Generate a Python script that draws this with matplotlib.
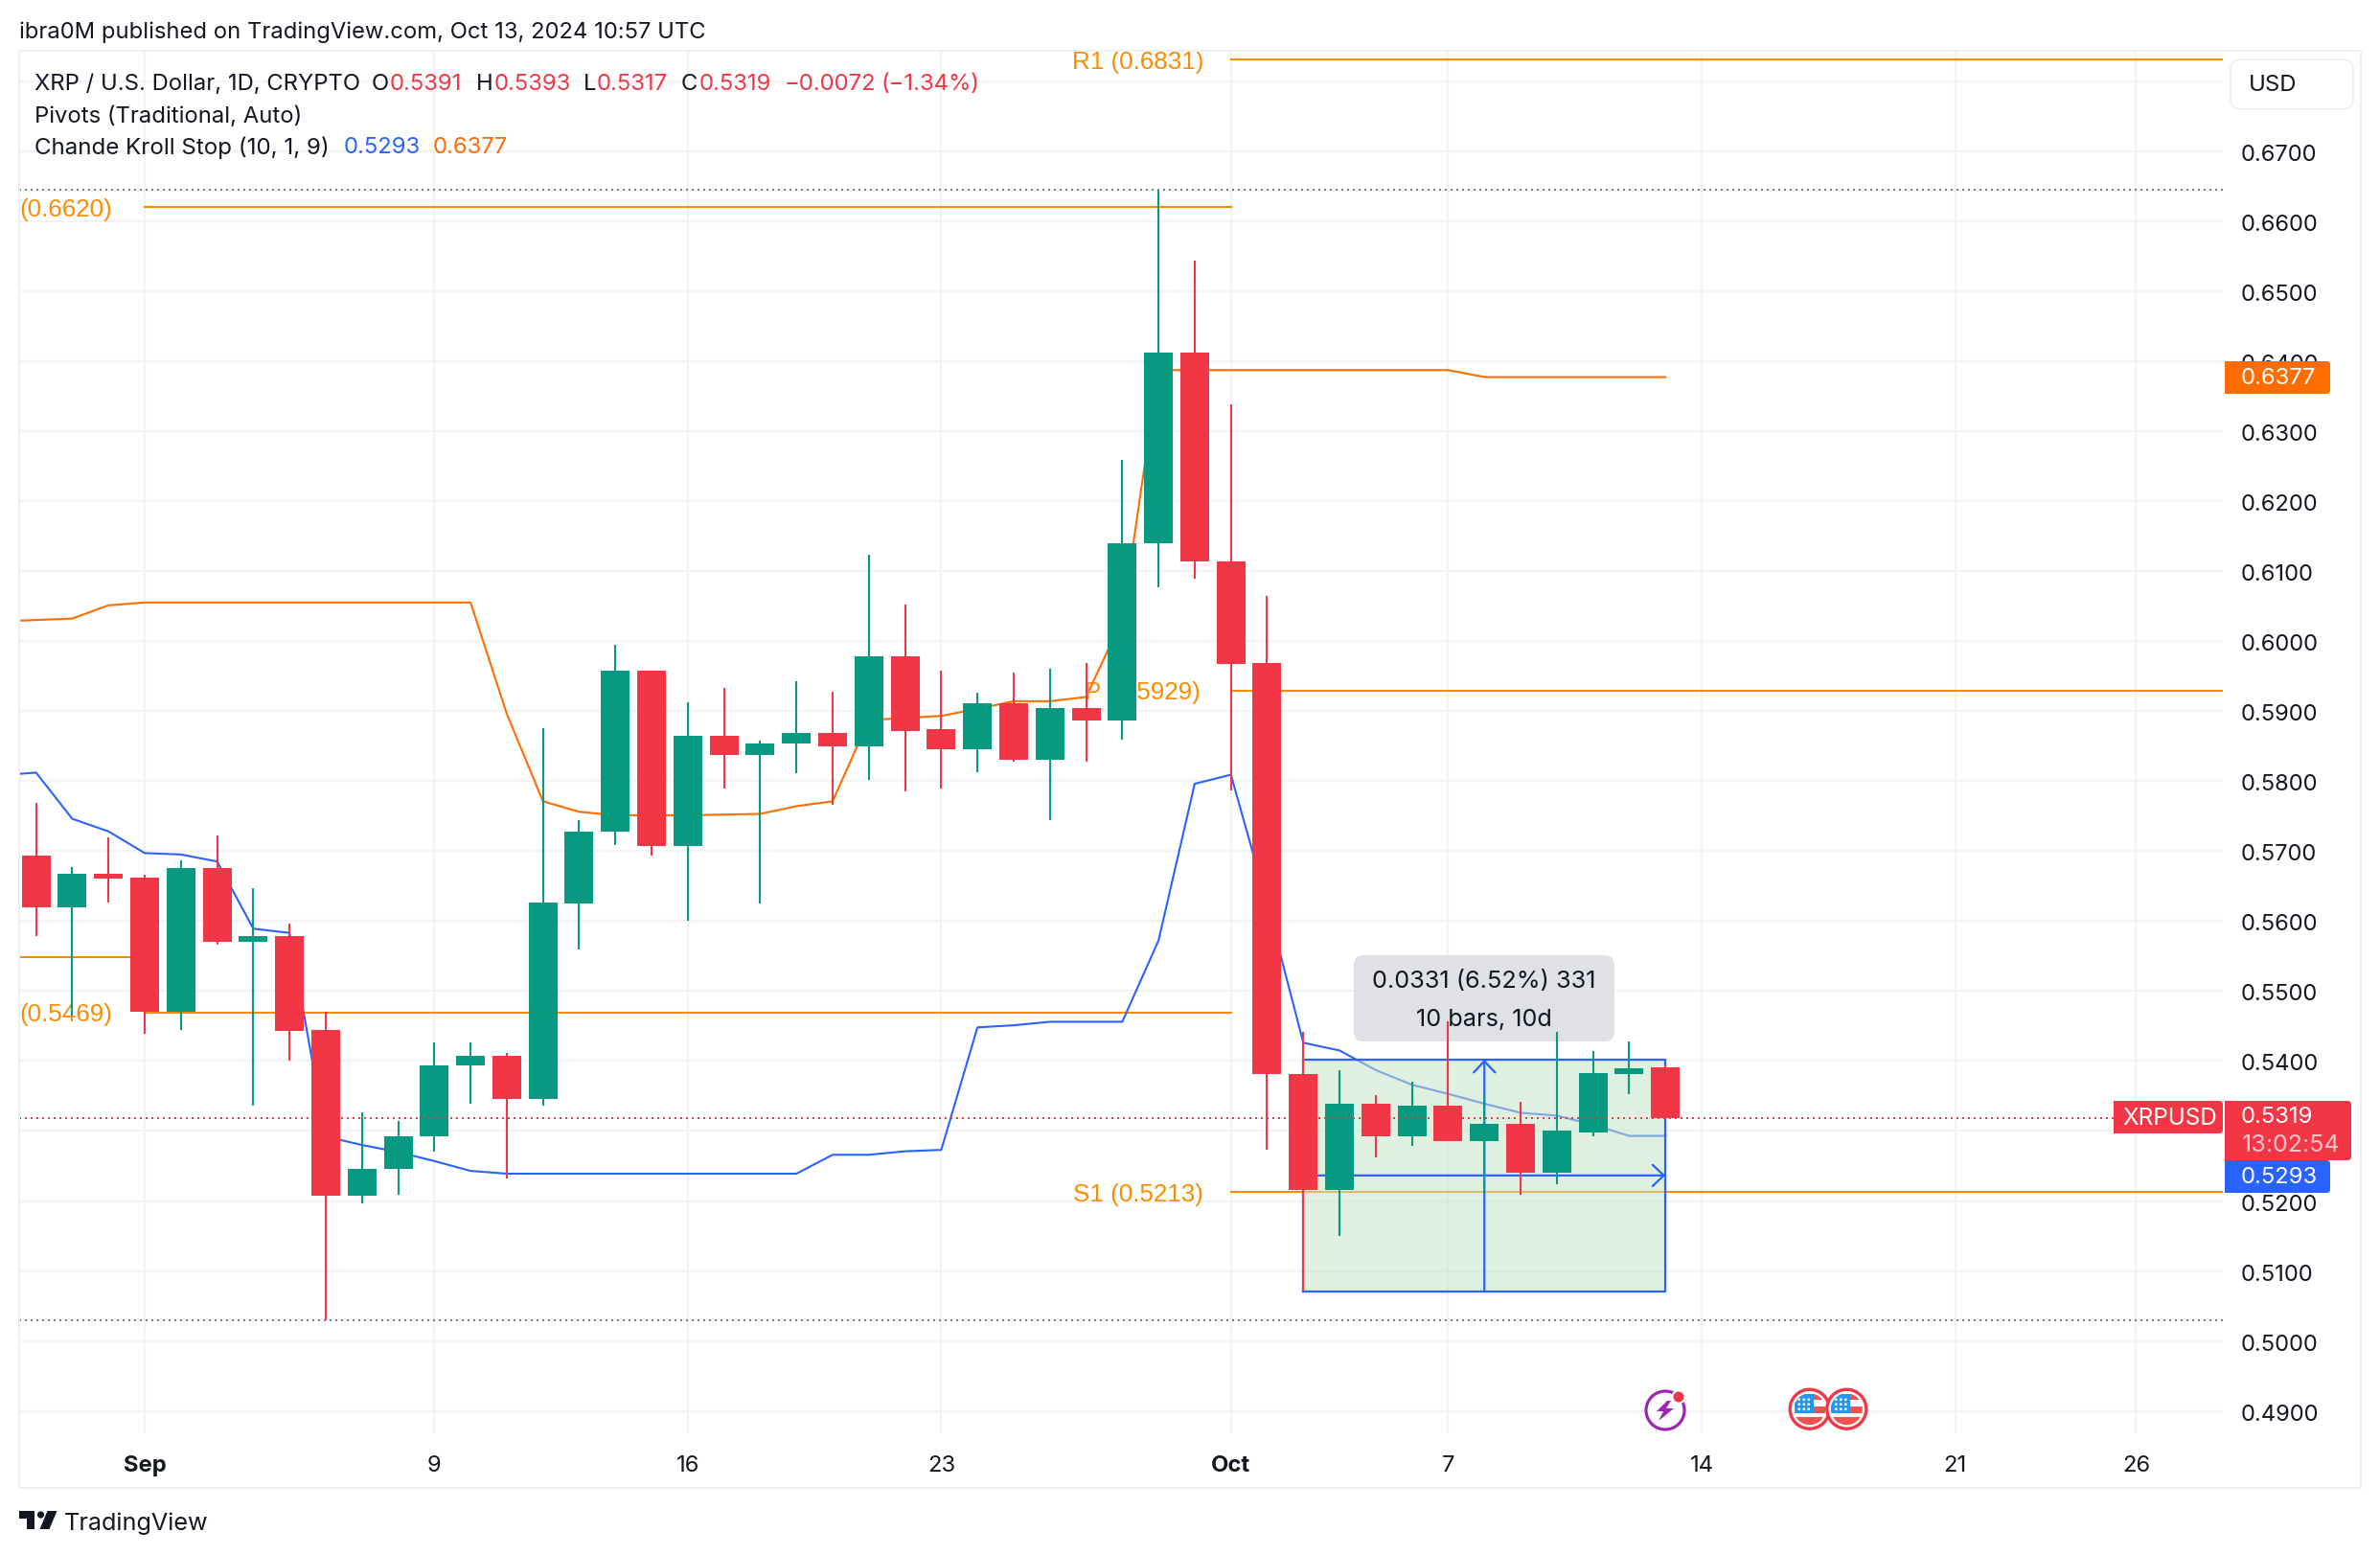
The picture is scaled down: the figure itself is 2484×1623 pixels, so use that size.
import matplotlib
matplotlib.use("Agg")
import matplotlib.pyplot as plt
from matplotlib.patches import FancyBboxPatch, Rectangle, Circle, Polygon
from matplotlib.transforms import Affine2D
import numpy as np

plt.rcParams['font.family'] = ['Inter', 'DejaVu Sans']

W, H = 2484, 1624

# ---- data (x = days since Sep 1) ----
days = list(range(-3, 43))
opens = [.5694,.5619,.5668,.5662,.5471,.5676,.5570,.5578,.5444,.5207,.5246,.5292,.5393,.5408,.5346,.5625,.5727,
         .5958,.5707,.5865,.5837,.5853,.5868,.5850,.5978,.5874,.5846,.5911,.5830,.5904,.5887,.6139,.6412,.6114,
         .5968,.5382,.5216,.5339,.5293,.5336,.5285,.5310,.5240,.5298,.5382,.5391]
closes = [.5619,.5668,.5660,.5471,.5676,.5570,.5578,.5443,.5207,.5246,.5293,.5394,.5408,.5346,.5626,.5727,.5958,
          .5707,.5865,.5837,.5854,.5868,.5850,.5978,.5872,.5846,.5911,.5830,.5904,.5887,.6139,.6412,.6113,.5967,
          .5381,.5216,.5339,.5293,.5336,.5285,.5310,.5240,.5300,.5383,.5390,.5319]
highs = [.5769,.5677,.5719,.5666,.5686,.5722,.5647,.5596,.5471,.5326,.5314,.5426,.5427,.5412,.5875,.5744,.5994,
         .5958,.5912,.5933,.5857,.5943,.5928,.6123,.6052,.5958,.5926,.5955,.5961,.5969,.6259,.6645,.6543,.6338,
         .6065,.5442,.5387,.5351,.5371,.5457,.5351,.5342,.5441,.5414,.5428,.5393]
lows = [.5578,.5465,.5627,.5439,.5445,.5566,.5336,.5400,.5029,.5197,.5209,.5270,.5339,.5232,.5336,.5559,.5708,
        .5694,.5601,.5789,.5625,.5811,.5766,.5802,.5785,.5789,.5813,.5827,.5744,.5827,.5859,.6077,.6089,.5786,
        .5273,.5072,.5150,.5262,.5279,.5285,.5213,.5209,.5224,.5292,.5353,.5317]

stop_days = list(range(-4, 43))
stop_blue = [.5808,.5812,.5746,.5728,.5697,.5695,.5685,.5589,.5583,.5292,.5280,.5270,.5257,.5243,.5239,
             .5239,.5239,.5239,.5239,.5239,.5239,.5239,.5239,.5266,.5266,.5271,.5273,.5448,.5451,.5456,.5456,
             .5456,.5572,.5796,.5809,.5625,.5426,.5415,.5387,.5366,.5353,.5339,.5326,.5322,.5309,.5293,.5293]
stop_orange = [.6028,.6030,.6032,.6051,.6055,.6055,.6055,.6055,.6055,.6055,.6055,.6055,.6055,.6055,.5896,
               .5771,.5756,.5751,.5751,.5751,.5752,.5753,.5764,.5771,.5887,.5890,.5893,.5903,.5914,.5914,.5920,
               .6031,.6387,.6387,.6387,.6387,.6387,.6387,.6387,.6387,.6387,.6377,.6377,.6377,.6377,.6377,.6377]

pivot_old_p = .5548
pivot_sep_r = .6620
pivot_sep_s = .5469
pivot_oct_r = .6831
pivot_oct_p = .5929
pivot_oct_s = .5213
range_high = .6645
range_low = .5029
last_price = .5319
box_top, box_bottom = .5402, .5071
box_start, box_end = 32, 42

y_ticks = [.49,.50,.51,.52,.53,.54,.55,.56,.57,.58,.59,.60,.61,.62,.63,.64,.65,.66,.67,.68]
y_labels = ['0.4900','0.5000','0.5100','0.5200','0.5300','0.5400','0.5500','0.5600','0.5700','0.5800','0.5900',
            '0.6000','0.6100','0.6200','0.6300','0.6400','0.6500','0.6600','0.6700','']
x_ticks = [0, 8, 15, 22, 30, 36, 43, 50, 55]
x_labels = ['Sep', '9', '16', '23', 'Oct', '7', '14', '21', '26']

# ---- colours ----
RED, GREEN, BLUE, ORANGE, PIVOT, INK = '#F23645', '#089981', '#2962FF', '#FF6D00', '#FB8C00', '#131722'
GRID, FRAME, GREY = '#F3F3F5', '#EFEFF4', '#787B86'

fig = plt.figure(figsize=(W/100, H/100), dpi=100, facecolor='white')
L, R, T_, B = 20, 2320, 53, 1497
ax = fig.add_axes([L/W, 1-B/H, (R-L)/W, (B-T_)/H])
PX_DAY = 37.79
x_at = lambda px: (px-151)/PX_DAY
p_at = lambda py: .67-(py-158.6)/7306
ax.set_xlim(x_at(L), x_at(R))
ax.set_ylim(p_at(B), p_at(T_))
for s in ax.spines.values():
    s.set_visible(False)
ax.set_axisbelow(True)
ax.yaxis.tick_right()
ax.set_yticks(y_ticks, y_labels)
ax.set_xticks(x_ticks, x_labels)
ax.tick_params(length=0, colors=INK, labelsize=23.8*.72)
ax.tick_params(axis='y', pad=13.5)
ax.tick_params(axis='x', pad=16)
ax.grid(True, color=GRID, lw=1.6)
for lab in ax.get_xticklabels():
    if lab.get_text() in ('Sep', 'Oct'):
        lab.set_fontweight('bold')
down = Affine2D().translate(0, -0.6)
for tk in ax.yaxis.get_major_ticks():
    tk.label2.set_transform(tk.label2.get_transform()+down)

px = Affine2D().scale(1, -1).translate(0, H)
TEXT_DY = 2.5

def T(x, y, s, c=INK, size=23.85, ha='left', va='center', z=12, **kw):
    return ax.text(x, y+TEXT_DY, s, color=c, fontsize=size*.72, ha=ha, va=va, zorder=z, transform=px, **kw)

def PL(xs, ys, c, lw=2, z=12, **kw):
    ax.plot(xs, ys, color=c, lw=lw*.72, zorder=z, transform=px, clip_on=False, **kw)

def tag(x0, y0, x1, y1, c, z=11):
    ax.add_patch(FancyBboxPatch((x0+3, y0+3), x1-x0-6, y1-y0-6, boxstyle='round,pad=3,rounding_size=4',
                                fc=c, ec='none', transform=px, clip_on=False, zorder=z))
    ax.add_patch(Rectangle((x0, y0), (x1-x0)/2, y1-y0, fc=c, ec='none', transform=px, clip_on=False, zorder=z))

# frame
PL([L, L], [54, 1554], FRAME)
PL([L, 2464], [54, 54], FRAME)
PL([2464, 2464], [54, 1554], FRAME)
PL([L, 2464], [1554, 1554], FRAME)

# pivots
xl, xr = ax.get_xlim()
pk = dict(color=PIVOT, lw=1.5, zorder=2)
ax.plot([xl, 0], [pivot_old_p]*2, **pk)
ax.plot([0, 30], [pivot_sep_r]*2, **pk)
ax.plot([0, 30], [pivot_sep_s]*2, **pk)
ax.plot([30, xr], [pivot_oct_r]*2, **pk)
ax.plot([30, xr], [pivot_oct_p]*2, **pk)
ax.plot([30, xr], [pivot_oct_s]*2, **pk)
pv = dict(c=PIVOT, size=26, z=2.5, family='Liberation Sans')
T(20, 217, '(0.6620)', **pv)
T(20, 1057, '(0.5469)', **pv)
T(1256, 63, 'R1 (0.6831)', ha='right', **pv)
T(1253, 721, 'P (0.5929)', ha='right', **pv)
T(1256, 1245, 'S1 (0.5213)', ha='right', **pv)

# Chande Kroll
ax.plot(stop_days, stop_blue, color=BLUE, lw=1.5, zorder=2)
ax.plot(stop_days, stop_orange, color=ORANGE, lw=1.5, zorder=2)

# date & price range
ax.add_patch(Rectangle((box_start, box_bottom), box_end-box_start, box_top-box_bottom,
                       fc=(197/255, 226/255, 200/255, .55), ec='none', zorder=3))
ax.plot([box_start, box_start, box_end, box_end, box_start], [box_bottom, box_top, box_top, box_bottom, box_bottom],
        color=BLUE, lw=1.6, zorder=3.1)
xm = (box_start+box_end)/2
ym = (box_top+box_bottom)/2
arrow = dict(arrowstyle='->,head_length=0.85,head_width=0.8', color=BLUE, lw=1.6, shrinkA=0, shrinkB=0, mutation_scale=10)
ax.annotate('', xy=(box_end, ym), xytext=(box_start, ym), arrowprops=arrow, zorder=3.1)
ax.annotate('', xy=(xm, box_top), xytext=(xm, box_bottom), arrowprops=arrow, zorder=3.1)
ax.add_patch(FancyBboxPatch((1421, 1006), 256, 74, boxstyle='round,pad=8,rounding_size=10', fc='#E0E1E6', ec='none',
                            transform=px, clip_on=False, zorder=3.2))
T(1549, 1022, '0.0331 (6.52%) 331', ha='center', z=3.3, size=25.3)
T(1549, 1062, '10 bars, 10d', ha='center', z=3.3, size=25.3)

# candles
o, c, h_, l_ = map(np.array, (opens, closes, highs, lows))
cols = [GREEN if cl >= op else RED for op, cl in zip(o, c)]
ax.vlines(days, l_, h_, colors=cols, lw=1.5, zorder=4)
ax.bar(days, np.abs(c-o), bottom=np.minimum(o, c), width=30/PX_DAY, color=cols, lw=0, zorder=4.1)

# dotted lines
dot = dict(lw=1.44, ls=(0, (1, 2)), zorder=5)
ax.plot([xl, xr], [range_high]*2, color=GREY, **dot)
ax.plot([xl, xr], [range_low]*2, color=GREY, **dot)
ax.plot([xl, x_at(2206)], [last_price]*2, color=RED, **dot)

# header & legend
T(20, 31, 'ibra0M published on TradingView.com, Oct 13, 2024 10:57 UTC', size=23.8)
T(36, 86, 'XRP / U.S. Dollar, 1D, CRYPTO', size=23.8)
for x_, s, col in [(388, 'O', INK), (407, '0.5391', RED), (497, 'H', INK), (516, '0.5393', RED),
                   (609, 'L', INK), (623, '0.5317', RED), (711, 'C', INK), (730, '0.5319', RED),
                   (819, '\u22120.0072', RED), (920, '(\u22121.34%)', RED)]:
    T(x_, 86, s, col)
T(36, 119, 'Pivots (Traditional, Auto)')
T(36, 152, 'Chande Kroll Stop (10, 1, 9)', size=24.1)
T(359, 152, '0.5293', BLUE)
T(452, 152, '0.6377', ORANGE)

# USD button
ax.add_patch(FancyBboxPatch((2338, 73), 108, 32, boxstyle='round,pad=10,rounding_size=10', fc='white', ec=FRAME,
                            lw=1.4, transform=px, clip_on=False, zorder=11))
T(2347, 87, 'USD')

# price tags
tag(2206, 1150, 2320, 1184, RED)
T(2215, 1165, 'XRPUSD', 'white', size=24.3)
tag(2322, 1150, 2454, 1212, RED)
T(2339, 1164, '0.5319', 'white')
T(2340, 1193, '13:02:54', '#FBC3C8', size=25)
tag(2322, 1212, 2432, 1246, BLUE, z=11.5)
T(2339, 1227, '0.5293', 'white')
tag(2322, 378, 2432, 412, ORANGE)
T(2339, 393, '0.6377', 'white')

# event icons
ax.add_patch(Circle((1738, 1473), 20, fc='white', ec='#9C27B0', lw=2.3, transform=px, clip_on=False, zorder=6))
ax.add_patch(Polygon([(1740, 1463), (1729, 1474), (1736, 1474), (1731, 1484), (1747, 1471), (1739, 1471), (1744, 1463)],
                     fc='#9C27B0', ec='none', transform=px, clip_on=False, zorder=6.1))
ax.add_patch(Circle((1752, 1459), 6.5, fc=RED, ec='white', lw=1.4, transform=px, clip_on=False, zorder=6.2))
for cx in (1888.7, 1927.3):
    cy = 1471.7
    z = 6.5 if cx < 1900 else 6.6
    ax.add_patch(Circle((cx, cy), 20.5, fc='white', ec=RED, lw=2.4, transform=px, clip_on=False, zorder=z))
    clip = Circle((cx, cy), 16.5, transform=px)
    parts = [((-16, -16), 20, 20.5, '#2196F3'), ((4, -16), 13, 6, '#EF5350'), ((4, -3), 13, 7, '#EF5350'),
             ((-16, 8), 32, 9, '#EF5350')]
    for (dx, dy), w_, h2, col in parts:
        r = Rectangle((cx+dx, cy+dy), w_, h2, fc=col, ec='none', transform=px, clip_on=True, zorder=z+.01)
        ax.add_patch(r)
        r.set_clip_path(clip)
    for dx in (-11, -6, -1):
        for dy in (-10, -5, 0):
            ax.add_patch(Circle((cx+dx, cy+dy), 1.4, fc='white', ec='none', transform=px, clip_on=False, zorder=z+.02))

# logo
ax.add_patch(Polygon([(20, 1578), (36, 1578), (36, 1597), (27.5, 1597), (27.5, 1586), (20, 1586)], fc=INK, ec='none',
                     transform=px, clip_on=False, zorder=12))
ax.add_patch(Circle((42.5, 1582), 3.6, fc=INK, ec='none', transform=px, clip_on=False, zorder=12))
ax.add_patch(Polygon([(59.5, 1578), (49.5, 1578), (41.5, 1597), (51.5, 1597)], fc=INK, ec='none', transform=px,
                     clip_on=False, zorder=12))
T(67, 1588, 'TradingView', size=25.2)

fig.savefig('out.png', dpi=100, facecolor='white')
